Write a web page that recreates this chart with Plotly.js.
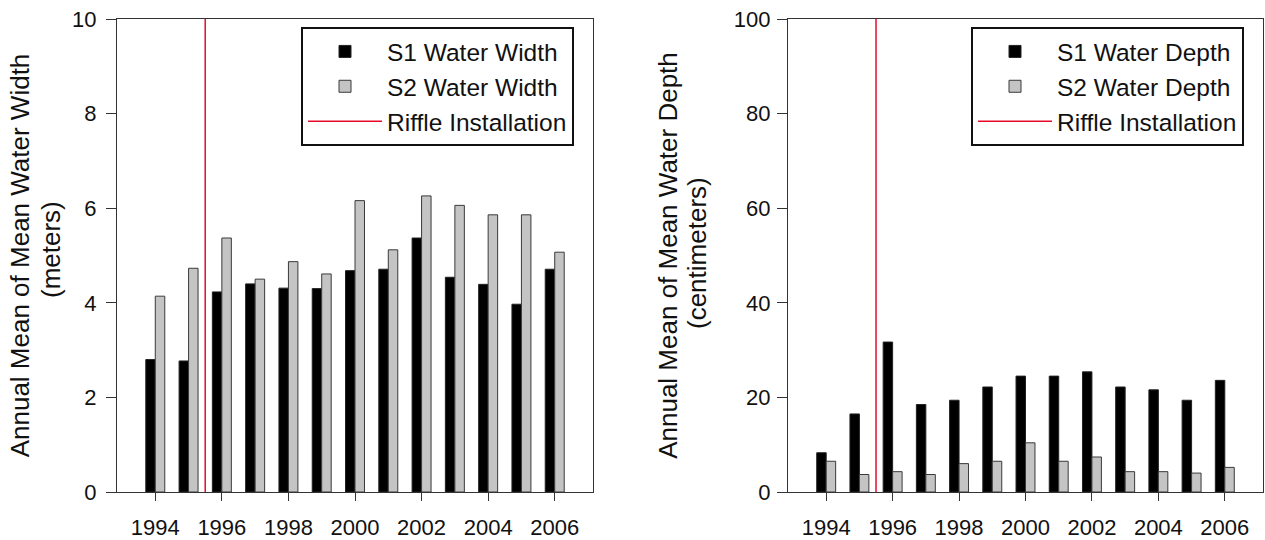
<!DOCTYPE html>
<html>
<head>
<meta charset="utf-8">
<script src="https://cdn.plot.ly/plotly-3.0.1.min.js"></script>
<style>
  html, body { margin: 0; padding: 0; background: #fff; }
  #chart { width: 1265px; height: 540px; }
</style>
</head>
<body>
<div id="chart"></div>
<script>
// ---- Data ----
const years = [1994, 1995, 1996, 1997, 1998, 1999, 2000, 2001, 2002, 2003, 2004, 2005, 2006];
const s1Width = [2.80, 2.77, 4.23, 4.40, 4.31, 4.30, 4.68, 4.71, 5.37, 4.54, 4.39, 3.97, 4.71];
const s2Width = [4.14, 4.73, 5.37, 4.50, 4.87, 4.61, 6.16, 5.12, 6.26, 6.06, 5.86, 5.86, 5.07];
const s1Depth = [8.3, 16.5, 31.7, 18.5, 19.4, 22.2, 24.5, 24.5, 25.4, 22.2, 21.6, 19.4, 23.6];
const s2Depth = [6.5, 3.7, 4.3, 3.7, 6.0, 6.5, 10.4, 6.5, 7.4, 4.3, 4.3, 4.0, 5.2];
const riffleYear = [1995.5, 1995.5];
const widthSpan = [0, 10];
const depthSpan = [0, 100];
const tickYears = [1994, 1996, 1998, 2000, 2002, 2004, 2006];

const FONT = 'Liberation Sans, Arial, Helvetica, sans-serif';
const AX = '#333333';
const RED = 'rgb(232,10,40)';

const traces = [
  {type: 'bar', x: years, y: s1Width, name: 'S1 Water Width', xaxis: 'x', yaxis: 'y', legend: 'legend',
   marker: {color: '#000000', line: {color: '#222222', width: 1}}},
  {type: 'bar', x: years, y: s2Width, name: 'S2 Water Width', xaxis: 'x', yaxis: 'y', legend: 'legend',
   marker: {color: '#c4c4c4', line: {color: '#3a3a3a', width: 1}}},
  {type: 'scatter', mode: 'lines', x: riffleYear, y: widthSpan, name: 'Riffle Installation', xaxis: 'x', yaxis: 'y', legend: 'legend',
   line: {color: RED, width: 1.5}},
  {type: 'bar', x: years, y: s1Depth, name: 'S1 Water Depth', xaxis: 'x2', yaxis: 'y2', legend: 'legend2',
   marker: {color: '#000000', line: {color: '#222222', width: 1}}},
  {type: 'bar', x: years, y: s2Depth, name: 'S2 Water Depth', xaxis: 'x2', yaxis: 'y2', legend: 'legend2',
   marker: {color: '#c4c4c4', line: {color: '#3a3a3a', width: 1}}},
  {type: 'scatter', mode: 'lines', x: riffleYear, y: depthSpan, name: 'Riffle Installation', xaxis: 'x2', yaxis: 'y2', legend: 'legend2',
   line: {color: RED, width: 1.5}}
];

const W = 1265, H = 540;
const yDom = [1 - 492 / H, 1 - 19 / H];

function xAxis(dom) {
  return {
    domain: dom, range: [1992.85, 2007.15], tickvals: tickYears, ticktext: tickYears.map(String),
    ticks: 'outside', ticklen: 8, tickwidth: 1, tickcolor: AX,
    showline: true, linecolor: AX, linewidth: 1.2, mirror: true,
    showgrid: false, zeroline: false, ticklabelstandoff: 7,
    tickfont: {family: FONT, size: 22, color: '#111'}
  };
}
function yAxis(range, dtick, title, standoff, lblOff) {
  return {
    domain: yDom, range: range, dtick: dtick, tick0: 0,
    ticks: 'outside', ticklen: 10, tickwidth: 1, tickcolor: AX,
    showline: true, linecolor: AX, linewidth: 1.2, mirror: true,
    showgrid: false, zeroline: false, ticklabelstandoff: lblOff,
    tickfont: {family: FONT, size: 22, color: '#111'},
    title: {text: title, font: {family: FONT, size: 26, color: '#111'}, standoff: standoff}
  };
}
function legendBox(xpx) {
  return {
    x: xpx / W, y: 1 - 27 / H, xanchor: 'left', yanchor: 'top',
    bgcolor: '#ffffff', bordercolor: '#111111', borderwidth: 2,
    font: {family: FONT, size: 24.5, color: '#111'}, itemwidth: 74,
    tracegroupgap: 0
  };
}

const layout = {
  width: W, height: H,
  margin: {l: 0, r: 0, t: 0, b: 0},
  paper_bgcolor: '#ffffff', plot_bgcolor: '#ffffff',
  barmode: 'group', bargap: 0.43, bargroupgap: 0,
  xaxis: xAxis([117 / W, 593 / W]),
  yaxis: yAxis([0, 10], 2, 'Annual Mean of Mean Water Width', 34, 5),
  xaxis2: Object.assign(xAxis([788 / W, 1263 / W]), {anchor: 'y2'}),
  yaxis2: Object.assign(yAxis([0, 100], 20, 'Annual Mean of Mean Water Depth', 48, 2), {anchor: 'x2'}),
  legend: legendBox(301),
  legend2: legendBox(971),
  annotations: [
    {text: '(meters)', xref: 'paper', yref: 'paper', x: 51 / W, y: 1 - 250 / H, xanchor: 'center', yanchor: 'middle',
     textangle: -90, showarrow: false, font: {family: FONT, size: 26, color: '#111'}},
    {text: '(centimeters)', xref: 'paper', yref: 'paper', x: 697 / W, y: 1 - 253 / H, xanchor: 'center', yanchor: 'middle',
     textangle: -90, showarrow: false, font: {family: FONT, size: 26, color: '#111'}}
  ],
  showlegend: true
};
layout.xaxis.anchor = 'y';
layout.yaxis.anchor = 'x';

Plotly.newPlot('chart', traces, layout, {displayModeBar: false, staticPlot: true});
</script>
</body>
</html>
